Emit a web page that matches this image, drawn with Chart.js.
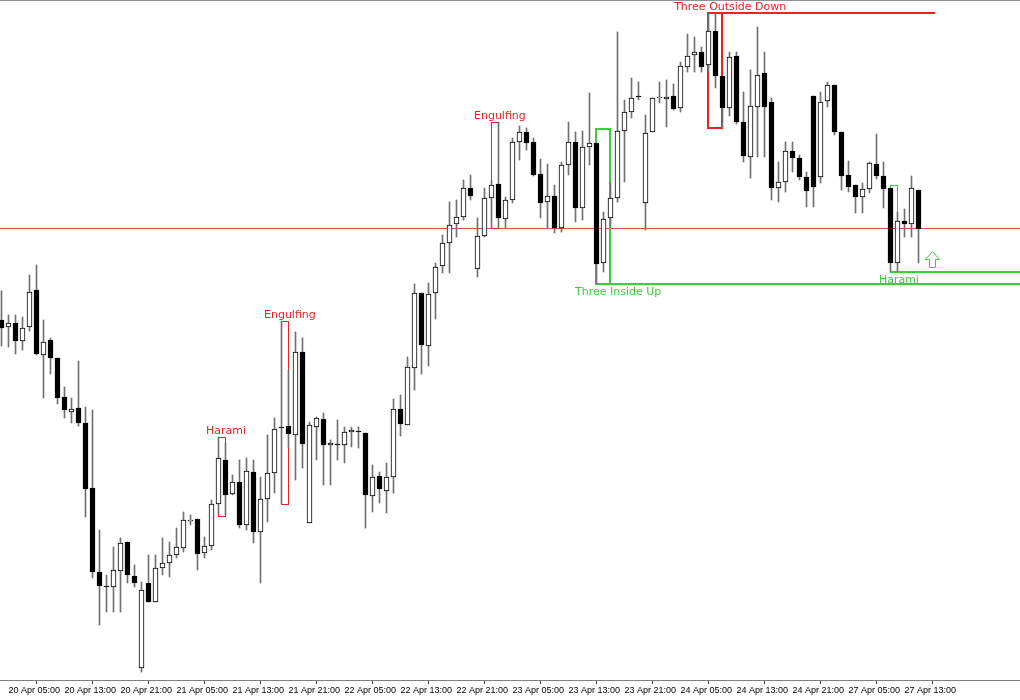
<!DOCTYPE html>
<html>
<head>
<meta charset="utf-8">
<script src="https://cdn.jsdelivr.net/npm/chart.js@4.4.0/dist/chart.umd.min.js"></script>
<style>
  html, body { margin: 0; padding: 0; background: #fff; }
  #wrap { width: 1020px; height: 700px; position: relative; }
</style>
</head>
<body>
<div id="wrap"><canvas id="chart"></canvas></div>
<script>
// hourly candles from 20 Apr 04:00 to 27 Apr 15:00 (weekend skipped), prices in points
var opens = [11060,11053,11057,11039,11053,11090,11025,11040,11022,10983,
  10968,10972,10957,10892,10808,10794,10793,10809,10838,10804,
  10712,10797,10778,10812,10817,10825,10832,10859,10861,10827,
  10834,10876,10920,10886,10898,10855,10908,10848,10881,10907,
  10953,10954,10945,11028,10857,10953,10961,10935,10936,10935,
  10948,10949,10947,10884,10904,10889,10903,10971,10955,11012,
  11087,11034,11087,11114,11137,11156,11163,11192,11111,11144,
  11182,11196,11161,11180,11238,11248,11238,11206,11178,11184,
  11152,11215,11238,11172,11233,11237,11117,11162,11182,11249,
  11268,11284,11177,11248,11282,11281,11284,11272,11313,11325,
  11328,11315,11349,11304,11272,11324,11258,11223,11273,11307,
  11278,11192,11198,11229,11222,11203,11284,11203,11279,11295,
  11248,11205,11195,11183,11191,11216,11204,11192,11117,11159,
  11156,11190];
var highs = [11089,11065,11065,11063,11105,11115,11060,11042,11022,10993,
  10982,11019,10973,10970,10850,10805,10833,10842,10838,10815,
  10798,10825,10825,10842,10838,10852,10868,10865,10861,10843,
  10880,10943,10937,10905,10920,10922,10920,10903,10945,10962,
  11059,11010,11048,11042,10958,10963,10967,10940,10960,10953,
  10953,10953,10947,10915,10908,10917,10981,10985,11023,11096,
  11087,11097,11117,11145,11178,11180,11200,11205,11162,11192,
  11200,11258,11183,11242,11254,11252,11242,11221,11216,11195,
  11218,11258,11248,11249,11287,11237,11168,11198,11348,11280,
  11302,11298,11265,11282,11298,11300,11296,11318,11346,11343,
  11333,11367,11367,11304,11328,11328,11288,11310,11353,11328,
  11282,11218,11238,11238,11225,11208,11284,11288,11298,11295,
  11248,11219,11195,11197,11218,11246,11218,11192,11168,11171,
  11204,11190];
var lows = [11034,11033,11026,11030,11049,11025,10982,11006,10976,10962,
  10957,10954,10863,10802,10755,10768,10768,10768,10797,10793,
  10708,10778,10778,10805,10803,10822,10828,10855,10810,10822,
  10830,10867,10865,10885,10852,10850,10837,10797,10858,10887,
  10876,10932,10900,10912,10857,10920,10895,10895,10920,10917,
  10933,10932,10852,10868,10877,10867,10887,10944,10955,10990,
  11006,11014,11061,11107,11107,11143,11160,11180,11103,11143,
  11152,11152,11152,11177,11220,11230,11204,11162,11152,11147,
  11148,11205,11158,11160,11215,11096,11108,11154,11178,11198,
  11262,11280,11150,11248,11277,11253,11270,11268,11308,11308,
  11308,11308,11292,11252,11264,11256,11218,11202,11223,11223,
  11180,11178,11188,11208,11200,11173,11173,11197,11273,11245,
  11190,11188,11167,11167,11187,11201,11172,11108,11108,11143,
  11143,11117];
var closes = [11052,11057,11039,11052,11088,11026,11038,11022,10982,10970,
  10971,10957,10891,10808,10794,10793,10810,10837,10805,10797,
  10790,10778,10812,10817,10825,10833,10860,10860,10826,10834,
  10876,10922,10885,10898,10855,10909,10848,10881,10907,10951,
  10952,10946,11028,10936,10955,10962,10935,10937,10935,10948,
  10950,10948,10885,10903,10891,10903,10971,10956,11013,11087,
  11035,11086,11113,11137,11155,11163,11192,11184,11144,11182,
  11195,11162,11180,11238,11248,11237,11205,11177,11184,11152,
  11215,11238,11172,11233,11237,11116,11161,11182,11249,11268,
  11282,11283,11247,11282,11283,11283,11271,11314,11324,11328,
  11313,11349,11304,11272,11323,11258,11224,11274,11305,11273,
  11192,11198,11229,11222,11203,11189,11193,11278,11295,11248,
  11204,11193,11183,11191,11217,11204,11191,11117,11159,11156,
  11192,11151];

var tickLabels = ['20 Apr 05:00', '20 Apr 13:00', '20 Apr 21:00', '21 Apr 05:00', '21 Apr 13:00',
  '21 Apr 21:00', '22 Apr 05:00', '22 Apr 13:00', '22 Apr 21:00', '23 Apr 05:00', '23 Apr 13:00',
  '23 Apr 21:00', '24 Apr 05:00', '24 Apr 13:00', '24 Apr 21:00', '27 Apr 05:00', '27 Apr 13:00'];
var tickStart = 1;   // candle index of the first label
var tickEvery = 8;   // one label every 8 candles

// horizontal level
var levelPrice = 11152;

// candle patterns: first / last candle, box top / bottom, where the name sits
var patternNames = ['Harami', 'Engulfing', 'Engulfing', 'Three Outside Down', 'Three Inside Up', 'Harami'];
var patternFrom = [31, 40, 70, 101, 85, 127];
var patternTo = [32, 41, 71, 103, 87, 128];
var patternTop = [10943, 11059, 11258, 11367, 11251, 11195];
var patternBottom = [10864, 10876, 11152, 11252, 11096, 11108];
var patternLabelAt = [32.07, 41.2, 71.2, 104.1, 88.1, 128.2];
var patternBull = [false, false, false, false, true, true];

// extended pattern levels
var extPrice = [11367, 11096, 11108];
var extFrom = [101, 85, 127];
var extTo = [133.4, 146, 146];
var extBull = [false, true, true];

// buy signal arrow
var arrowAt = 133;
var arrowPrice = 11129;

var RED = '#ee2222';
var GREEN = '#3ccc3c';

var bodies = opens.map(function(o, i) { return { x: i, y: [o, closes[i]] }; });
var wicks = opens.map(function(o, i) { return { x: i, y: [lows[i], highs[i]] }; });
var bodyColors = opens.map(function(o, i) { return closes[i] >= o ? '#ffffff' : '#000000'; });

function hline(ctx, x1, x2, y) {
    ctx.beginPath();
    ctx.moveTo(x1, y);
    ctx.lineTo(x2, y);
    ctx.stroke();
}

var patternPlugin = {
    id: 'patterns',
    beforeDatasetsDraw: function(chart) {
        var ctx = chart.ctx, sx = chart.scales.x, sy = chart.scales.y, area = chart.chartArea;
        ctx.save();
        ctx.beginPath();
        ctx.rect(area.left, area.top, area.right - area.left, area.bottom - area.top);
        ctx.clip();

        ctx.strokeStyle = '#e84a4a';
        ctx.lineWidth = 1;
        hline(ctx, area.left, area.right, Math.round(sy.getPixelForValue(levelPrice)) + 0.5);

        patternNames.forEach(function(name, i) {
            var x1 = sx.getPixelForValue(patternFrom[i]);
            var x2 = sx.getPixelForValue(patternTo[i]);
            var y1 = Math.round(sy.getPixelForValue(patternTop[i]));
            var y2 = Math.round(sy.getPixelForValue(patternBottom[i]));
            var wide = patternTo[i] - patternFrom[i] >= 2;
            ctx.lineWidth = wide ? 2 : 1;
            ctx.strokeStyle = patternBull[i] ? GREEN : RED;
            if (wide) {
                ctx.strokeRect(Math.round(x1), y1, Math.round(x2 - x1), y2 - y1);
            } else {
                ctx.strokeRect(x1, y1 + 0.5, x2 - x1, y2 - y1);
            }
        });

        ctx.lineWidth = 2;
        extPrice.forEach(function(p, i) {
            ctx.strokeStyle = extBull[i] ? GREEN : RED;
            var y = Math.round(sy.getPixelForValue(p));
            hline(ctx, sx.getPixelForValue(extFrom[i]), sx.getPixelForValue(extTo[i]), y);
        });
        ctx.restore();
    },
    afterDatasetsDraw: function(chart) {
        var ctx = chart.ctx, sx = chart.scales.x, sy = chart.scales.y;
        ctx.save();
        ctx.font = '11px "DejaVu Sans"';
        ctx.textAlign = 'center';
        ctx.textBaseline = 'alphabetic';
        patternNames.forEach(function(name, i) {
            var x = sx.getPixelForValue(patternLabelAt[i]);
            if (patternBull[i]) {
                ctx.fillStyle = GREEN;
                ctx.fillText(name, x, sy.getPixelForValue(patternBottom[i]) + 11);
            } else {
                ctx.fillStyle = RED;
                ctx.fillText(name, x, sy.getPixelForValue(patternTop[i]) - 3);
            }
        });

        // up arrow (outline)
        var cx = Math.round(sx.getPixelForValue(arrowAt)) + 0.5;
        var ty = Math.round(sy.getPixelForValue(arrowPrice)) + 0.5;
        ctx.strokeStyle = GREEN;
        ctx.lineWidth = 1;
        ctx.beginPath();
        ctx.moveTo(cx, ty);
        ctx.lineTo(cx + 7, ty + 8);
        ctx.lineTo(cx + 3, ty + 8);
        ctx.lineTo(cx + 3, ty + 16);
        ctx.lineTo(cx - 3, ty + 16);
        ctx.lineTo(cx - 3, ty + 8);
        ctx.lineTo(cx - 7, ty + 8);
        ctx.closePath();
        ctx.stroke();
        ctx.restore();
    },
    afterDraw: function(chart) {
        var ctx = chart.ctx, area = chart.chartArea;
        ctx.save();
        ctx.strokeStyle = '#909090';
        ctx.lineWidth = 1;
        hline(ctx, area.left, area.right, area.top + 0.5);
        ctx.restore();
    }
};

new Chart(document.getElementById('chart'), {
    type: 'bar',
    data: {
        datasets: [
            {
                label: 'Body',
                data: bodies,
                backgroundColor: bodyColors,
                borderColor: '#000000',
                borderWidth: 1,
                borderSkipped: false,
                barThickness: 5,
                minBarLength: 1,
                grouped: false,
                order: 0
            },
            {
                label: 'Wick',
                data: wicks,
                backgroundColor: '#707070',
                borderWidth: 0,
                barThickness: 1,
                grouped: false,
                order: 1
            }
        ]
    },
    options: {
        responsive: true,
        maintainAspectRatio: false,
        animation: false,
        layout: { padding: 0 },
        plugins: {
            legend: { display: false },
            tooltip: { enabled: false }
        },
        scales: {
            x: {
                type: 'linear',
                offset: false,
                min: -0.2142857,
                max: 145.5,
                afterBuildTicks: function(axis) {
                    axis.ticks = tickLabels.map(function(t, k) { return { value: tickStart + k * tickEvery }; });
                },
                afterFit: function(axis) {
                    axis.height = 20;
                    axis.paddingLeft = 0;
                    axis.paddingRight = 0;
                },
                ticks: {
                    autoSkip: false,
                    maxRotation: 0,
                    minRotation: 0,
                    align: 'start',
                    padding: 1,
                    color: '#000000',
                    font: { family: 'Liberation Sans', size: 9 },
                    callback: function(value) {
                        return tickLabels[(value - tickStart) / tickEvery] || '';
                    }
                },
                grid: {
                    drawOnChartArea: false,
                    drawTicks: true,
                    tickLength: 4,
                    color: '#404040'
                },
                border: { display: true, color: '#808080' }
            },
            y: {
                display: false,
                min: 10700,
                max: 11380
            }
        }
    },
    plugins: [patternPlugin]
});
</script>
</body>
</html>
